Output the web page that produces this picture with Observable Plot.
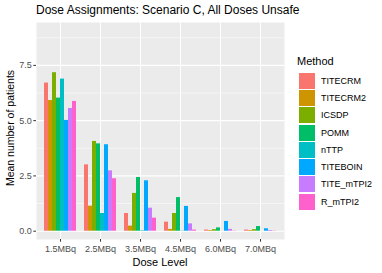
<!DOCTYPE html>
<html><head><meta charset="utf-8">
<script src="https://cdn.jsdelivr.net/npm/d3@7"></script>
<script src="https://cdn.jsdelivr.net/npm/@observablehq/plot@0.6"></script>
<style>
body{margin:0;background:#fff;font-family:"Liberation Sans",Arial,sans-serif;}
#wrap{position:relative;width:382px;height:273px;overflow:hidden;}
.layer{position:absolute;left:0;top:0;}
#title{position:absolute;left:36px;top:3px;font-size:12px;color:#000;white-space:nowrap;}
#xlab{position:absolute;left:36px;width:248px;top:256px;text-align:center;font-size:11px;color:#000;}
#ylab{position:absolute;left:10px;top:128px;transform:translate(-50%,-50%) rotate(-90deg);font-size:10.5px;color:#000;white-space:nowrap;}
#legend{position:absolute;left:297px;top:55px;font-size:11px;color:#000;}
#legend .lt{margin-bottom:5px;}
#legend .row{display:flex;align-items:center;height:17.3px;}
#legend .sw{width:16px;height:16px;margin:0 6px 0 2px;}
#legend .lb{font-size:9px;color:#000;}
</style></head><body>
<div id="wrap">
  <div id="base" class="layer"></div>
  <div id="bars" class="layer"></div>
  <div id="title">Dose Assignments: Scenario C, All Doses Unsafe</div>
  <div id="xlab">Dose Level</div>
  <div id="ylab">Mean number of patients</div>
  <div id="legend"></div>
</div>
<script>
const doses = ["1.5MBq", "2.5MBq", "3.5MBq", "4.5MBq", "6.0MBq", "7.0MBq"];
const methods = ["TITECRM", "TITECRM2", "ICSDP", "POMM", "nTTP", "TITEBOIN", "TITE_mTPI2", "R_mTPI2"];
const colors = ["#F8766D", "#CD9600", "#7CAE00", "#00BE67", "#00BFC4", "#00A9FF", "#C77CFF", "#FF61CC"];

const TITECRM    = [6.70, 3.00, 0.80, 0.41, 0.05, 0.05];
const TITECRM2   = [5.91, 1.13, 0.23, 0.08, 0.03, 0.03];
const ICSDP      = [7.17, 4.06, 1.71, 0.80, 0.07, 0.07];
const POMM       = [6.02, 3.95, 2.43, 1.52, 0.15, 0.21];
const nTTP       = [6.88, 0.80, 0.02, 0.01, 0.00, 0.00];
const TITEBOIN   = [5.01, 3.91, 2.28, 1.12, 0.44, 0.11];
const TITE_mTPI2 = [5.55, 2.73, 1.04, 0.33, 0.08, 0.03];
const R_mTPI2    = [5.87, 2.37, 0.59, 0.05, 0.01, 0.01];

const yMajor = [0, 2.5, 5, 7.5];
const yMinor = [1.25, 3.75, 6.25, 8.75];

const series = [TITECRM, TITECRM2, ICSDP, POMM, nTTP, TITEBOIN, TITE_mTPI2, R_mTPI2];
const data = [];
methods.forEach((m, j) => series[j].forEach((v, i) => data.push({dose: doses[i], method: m, value: v})));

const common = {
  width: 382, height: 273,
  marginTop: 22, marginBottom: 34, marginLeft: 36, marginRight: 98,
  style: {fontFamily: "Liberation Sans, Arial, sans-serif", background: "transparent", overflow: "visible"}
};
const yScale = {domain: [-0.376, 9.44], axis: null};

// Panel: background, grid, axes
const base = Plot.plot({
  ...common,
  x: {type: "band", domain: doses, paddingInner: 0.1, paddingOuter: 0.15, axis: null},
  y: yScale,
  marks: [
    Plot.frame({fill: "#EBEBEB"}),
    Plot.ruleY(yMinor, {y: d => d, stroke: "#fff", strokeWidth: 0.55}),
    Plot.ruleY(yMajor, {y: d => d, stroke: "#fff", strokeWidth: 1.1}),
    Plot.gridX({stroke: "#fff", strokeOpacity: 1, strokeWidth: 1.1}),
    Plot.axisY(yMajor, {tickSize: 2.7, tickPadding: 2, fontSize: 9, color: "#4D4D4D", stroke: "#333", label: null, tickFormat: d => d.toFixed(1)}),
    Plot.axisX({tickSize: 2.7, tickPadding: 3, fontSize: 9, color: "#4D4D4D", stroke: "#333", label: null, anchor: "bottom"})
  ]
});
document.getElementById("base").appendChild(base);

// Dodged bars: one facet per dose
const bars = Plot.plot({
  ...common,
  fx: {domain: doses, paddingInner: 0.1, paddingOuter: 0.15, label: null, axis: null},
  x: {domain: methods, padding: 0, axis: null},
  y: yScale,
  color: {domain: methods, range: colors},
  marks: [
    Plot.barY(data, {fx: "dose", x: "method", y: "value", fill: "method"})
  ]
});
document.getElementById("bars").appendChild(bars);

const leg = document.getElementById("legend");
leg.innerHTML = '<div class="lt">Method</div>' + methods.map((m, j) =>
  `<div class="row"><div class="sw" style="background:${colors[j]}"></div><div class="lb">${m}</div></div>`).join("");
</script>
</body></html>
